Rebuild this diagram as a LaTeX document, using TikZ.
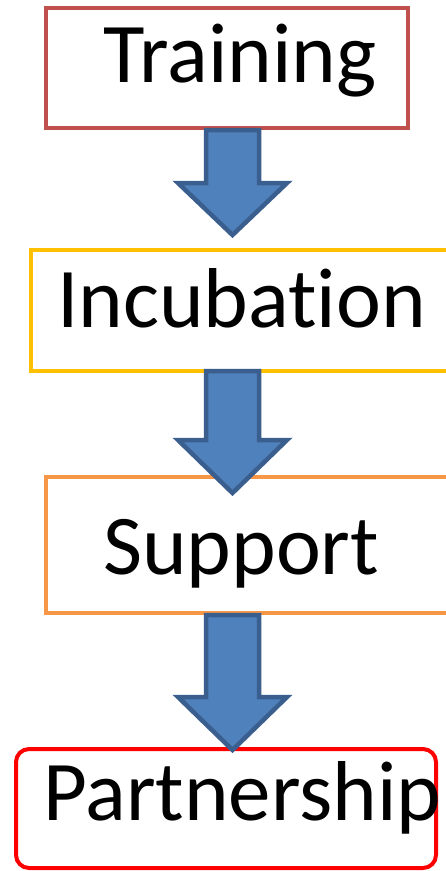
\documentclass[tikz,border=0pt]{standalone}
\usepackage{fontspec}
\setmainfont[RawFeature=-liga]{Carlito}
\definecolor{trainc}{HTML}{C0504D}
\definecolor{incubc}{HTML}{FFC000}
\definecolor{suppc}{HTML}{F79646}
\definecolor{partc}{HTML}{FF0000}
\definecolor{arrfill}{HTML}{4F81BD}
\definecolor{arrline}{HTML}{3A5F8E}
\begin{document}
\begin{tikzpicture}[x=1pt,y=-1pt,
  box/.style={draw, line width=4pt, fill=white, anchor=north west, inner sep=0pt, outer sep=0pt},
  label/.style={anchor=base west, inner sep=0pt, font=\fontsize{85}{95}\selectfont},
  flowarr/.style={fill=arrfill, draw=arrline, line width=4.5pt, line join=miter}]
\useasboundingbox (0,0) rectangle (446,871);
\clip (0,0) rectangle (446,871);
% boxes
\node[box, draw=trainc, minimum width=362pt, minimum height=120pt] (train) at (46,8) {};
\node[box, draw=incubc, minimum width=440pt, minimum height=121pt] (incub) at (31,250) {};
\node[box, draw=suppc, minimum width=425pt, minimum height=136pt] (supp) at (46,477) {};
\node[box, draw=partc, rounded corners=13pt, minimum width=420pt, minimum height=119pt] (part) at (16,749) {};
% texts
\node[label] (ttrain) at (103,82) {Training};
\node[label] (tincub) at (57,327) {Incubation};
\node[label] (tsupp) at (103,574) {Support};
\node[label] (tpart) at (43,820) {Partnership};
% arrows
\newcommand\flowarrow[3]{%
  \draw[flowarr] (206,#1) -- (259,#1) -- (259,#2) -- (287,#2) -- (232.5,#3) -- (178,#2) -- (206,#2) -- cycle;}
\flowarrow{130}{183}{235}
\flowarrow{371}{440}{493}
\flowarrow{615}{697}{750}
\end{tikzpicture}
\end{document}
